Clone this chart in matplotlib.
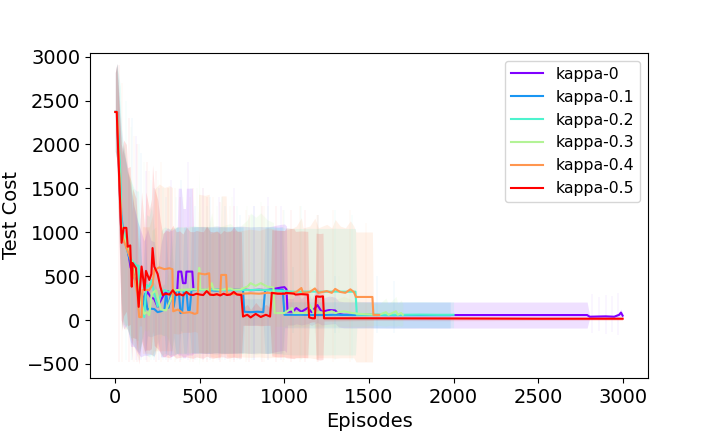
import numpy as np
import matplotlib
matplotlib.use("Agg")
import matplotlib.pyplot as plt

# kappa labels, one run each
LABELS = ["kappa-0", "kappa-0.1", "kappa-0.2", "kappa-0.3", "kappa-0.4", "kappa-0.5"]

# kappa-0
k0_ep = [0, 10, 35, 50, 70, 90, 110, 130, 150, 170, 190, 210, 230, 250, 270, 290, 310, 330, 350, 366,
         372, 390, 400, 415, 420, 445, 455, 462, 500, 550, 600, 650, 700, 750, 800, 850, 900, 950, 980, 1000,
         1012, 1018, 1050, 1070, 1100, 1140, 1160, 1195, 1220, 1265, 1300, 1320, 1350, 1400, 1500,
         1600, 1700, 1800, 1900, 2000, 2500, 2790, 2805, 2850, 2900, 2950, 2980, 2990, 3000]
k0_mean = [2370, 2370, 1000, 900, 850, 600, 500, 380, 300, 250, 320, 260, 240, 150, 230, 300, 330, 300, 320, 340,
           552, 552, 420, 420, 552, 552, 552, 342, 345, 340, 350, 340, 345, 350, 340, 345, 340, 360, 370, 375,
           350, 95, 95, 137, 95, 140, 90, 171, 95, 114, 110, 70, 60, 60, 60,
           57, 57, 57, 57, 57, 57, 57, 38, 40, 42, 38, 60, 85, 50]
k0_std = [450, 550, 1000, 1000, 900, 900, 800, 750, 720, 650, 720, 650, 650, 400, 650, 720, 720, 720, 720, 720,
          950, 950, 850, 850, 950, 950, 950, 720, 720, 720, 720, 720, 720, 720, 720, 720, 720, 720, 720, 720,
          720, 150, 150, 180, 150, 180, 150, 200, 150, 160, 150, 148, 148, 148, 148,
          148, 148, 148, 148, 148, 148, 148, 15, 15, 15, 15, 30, 40, 30]

# kappa-0.1
k1_ep = [0, 10, 35, 50, 70, 90, 110, 130, 141, 160, 175, 190, 210, 230, 250, 270, 290, 300, 315, 330,
         345, 360, 375, 385, 395, 405, 420, 430, 440, 450, 500, 550, 600, 650, 700, 755, 762, 800, 840, 875,
         885, 930, 960, 990, 1000, 1100, 1200, 1300, 1400, 1500, 1600, 1700, 1800, 1900, 1980]
k1_mean = [2370, 2370, 1200, 950, 800, 650, 500, 400, 342, 150, 300, 120, 130, 125, 90, 100, 120, 300, 140, 320,
           150, 340, 342, 80, 90, 340, 342, 114, 114, 340, 345, 340, 335, 345, 340, 342, 95, 90, 95, 90,
           342, 345, 340, 345, 60, 60, 57, 60, 57, 57, 57, 57, 57, 57, 57]
k1_std = [450, 550, 1000, 1000, 900, 900, 800, 750, 720, 350, 700, 300, 320, 300, 250, 260, 300, 700, 330, 720,
          350, 720, 720, 200, 220, 720, 720, 250, 250, 720, 720, 720, 720, 720, 720, 720, 150, 150, 150, 150,
          720, 720, 720, 720, 148, 148, 148, 148, 148, 148, 148, 148, 148, 148, 148]

# kappa-0.2
k2_ep = [0, 10, 30, 37, 50, 70, 90, 110, 125, 137, 145, 160, 171, 180, 185, 200, 215, 230, 250, 270,
         290, 320, 350, 380, 420, 460, 500, 550, 600, 650, 700, 750, 800, 850, 900, 950, 1000, 1050, 1100, 1150,
         1200, 1250, 1300, 1350, 1400, 1420, 1428, 1500, 1600, 1700, 1800, 1900, 2000]
k2_mean = [2370, 2370, 1650, 900, 1000, 800, 700, 650, 620, 620, 342, 148, 34, 300, 400, 380, 457, 300, 150, 300,
           340, 320, 330, 340, 330, 350, 340, 345, 350, 340, 345, 342, 342, 345, 340, 335, 330, 323, 323, 325,
           323, 323, 325, 323, 323, 323, 60, 62, 60, 60, 62, 60, 60]
k2_std = [450, 550, 1000, 1000, 1000, 900, 900, 850, 850, 850, 720, 350, 100, 700, 800, 800, 850, 720, 350, 720,
          720, 720, 720, 720, 720, 720, 720, 720, 720, 720, 720, 720, 720, 720, 720, 720, 720, 720, 720, 720,
          720, 720, 720, 720, 720, 720, 148, 148, 148, 148, 148, 148, 148]

# kappa-0.3
k3_ep = [0, 10, 35, 50, 70, 90, 110, 130, 150, 171, 185, 200, 215, 240, 270, 300, 350, 400, 450, 490,
         496, 502, 550, 570, 580, 620, 680, 700, 740, 780, 800, 830, 860, 900, 935, 942, 980, 1000, 1045, 1055,
         1100, 1135, 1150, 1160, 1175, 1210, 1245, 1280, 1300, 1350, 1400, 1450, 1500, 1560, 1600,
         1615, 1660, 1670, 1690, 1700]
k3_mean = [2370, 2370, 1100, 950, 850, 700, 600, 450, 200, 70, 90, 57, 300, 340, 120, 110, 340, 345, 350, 350,
           594, 350, 345, 420, 350, 345, 360, 345, 350, 380, 420, 390, 420, 380, 370, 80, 80, 80, 137, 80,
           80, 80, 171, 137, 80, 90, 80, 100, 80, 100, 80, 70, 65, 60, 90,
           60, 100, 60, 80, 60]
k3_std = [450, 550, 1000, 1000, 900, 900, 850, 800, 500, 180, 220, 150, 720, 720, 300, 280, 720, 720, 720, 720,
          1100, 720, 720, 800, 720, 720, 740, 720, 720, 760, 800, 780, 800, 760, 740, 150, 150, 150, 200, 150,
          150, 150, 230, 200, 150, 160, 150, 170, 150, 170, 150, 140, 130, 120, 160,
          120, 170, 120, 150, 120]

# kappa-0.4
k4_ep = [0, 10, 35, 50, 70, 90, 110, 130, 141, 155, 160, 185, 200, 220, 230, 260, 290, 320, 337, 342,
         370, 400, 440, 470, 485, 492, 530, 555, 560, 600, 620, 626, 655, 660, 700, 750, 800, 850, 900, 950,
         1000, 1050, 1070, 1100, 1110, 1150, 1180, 1200, 1250, 1280, 1300, 1330, 1360, 1390, 1410,
         1423, 1500, 1520, 1526, 1560]
k4_mean = [2370, 2370, 1000, 900, 800, 700, 500, 300, 34, 34, 342, 342, 342, 400, 570, 600, 580, 590, 580, 100,
           120, 80, 90, 70, 80, 533, 520, 533, 285, 290, 290, 514, 514, 300, 295, 300, 305, 300, 310, 305,
           300, 310, 320, 365, 310, 320, 360, 310, 330, 310, 355, 320, 310, 350, 320,
           263, 263, 263, 57, 57]
k4_std = [450, 550, 1000, 1000, 900, 900, 800, 720, 100, 100, 720, 720, 720, 800, 920, 950, 930, 940, 930, 250,
          280, 220, 230, 200, 220, 900, 900, 900, 700, 720, 720, 900, 900, 720, 720, 720, 730, 720, 740, 730,
          720, 740, 750, 800, 740, 750, 800, 740, 760, 740, 790, 750, 740, 780, 750,
          740, 740, 740, 30, 30]

# kappa-0.5
k5_ep = [0, 8, 37, 49, 65, 73, 88, 97, 102, 122, 138, 155, 173, 181, 201, 213, 220, 230, 250, 266,
         280, 300, 320, 340, 360, 380, 400, 420, 440, 460, 480, 500, 520, 540, 560, 580, 600, 620, 640, 660,
         680, 700, 720, 745, 755, 780, 800, 830, 860, 890, 915, 925, 960, 1000, 1010, 1057, 1065, 1100, 1138, 1146,
         1165, 1180, 1187, 1210, 1228, 1234, 1500, 2000, 2500, 3000]
k5_mean = [2370, 2370, 880, 1050, 1050, 835, 850, 380, 650, 590, 150, 610, 342, 560, 457, 525, 820, 610, 525, 380,
           285, 300, 290, 340, 285, 295, 280, 320, 290, 285, 300, 290, 285, 330, 290, 285, 295, 280, 300, 285,
           290, 320, 290, 285, 40, 60, 30, 70, 35, 60, 40, 310, 300, 300, 310, 300, 290, 295, 290, 30,
           20, 20, 270, 265, 270, 20, 20, 18, 15, 15]
k5_std = [450, 550, 1000, 1000, 950, 900, 900, 850, 850, 800, 650, 850, 700, 900, 800, 850, 950, 900, 850, 750,
          700, 720, 720, 740, 720, 720, 700, 740, 720, 720, 720, 720, 720, 740, 720, 720, 720, 700, 720, 720,
          720, 740, 720, 720, 100, 120, 90, 130, 100, 120, 100, 720, 720, 720, 740, 740, 720, 720, 720, 60,
          40, 40, 720, 720, 720, 30, 25, 25, 20, 20]

# single noisy evaluations (faint streaks outside the bands)
k0_spk_ep = [120, 180, 260, 330, 430, 520, 610, 700, 820, 900, 980, 2820, 2860, 2900, 2940, 2975]
k0_spk_lo = [-450, -450, -450, -450, -450, -450, -450, -450, -450, -450, -450, -150, -130, -160, -140, -170]
k0_spk_hi = [2100, 1700, 1500, 1600, 1800, 1500, 1400, 1500, 1300, 1400, 1300, 300, 260, 290, 270, 310]

k1_spk_ep = [100, 150, 230, 300, 390, 470, 560, 650, 740, 820, 1050, 1300, 1550, 1650]
k1_spk_lo = [-450, -450, -450, -450, -450, -450, -450, -450, -450, -450, -150, -150, -150, -150]
k1_spk_hi = [2300, 1900, 1500, 1400, 1600, 1300, 1400, 1300, 1200, 1300, 600, 500, 500, 450]

k2_spk_ep = [60, 140, 210, 280, 360, 450, 540, 630, 720, 810, 900, 1000, 1100, 1200, 1300, 1400]
k2_spk_lo = [-450, -450, -450, -450, -450, -450, -450, -450, -450, -450, -450, -450, -450, -450, -450, -450]
k2_spk_hi = [2500, 2000, 1600, 1500, 1400, 1500, 1300, 1400, 1300, 1200, 1300, 1250, 1300, 1200, 1250, 1200]

k3_spk_ep = [90, 170, 250, 320, 400, 480, 600, 690, 780, 860, 1050, 1180, 1320]
k3_spk_lo = [-450, -450, -450, -450, -450, -450, -450, -450, -450, -450, -150, -150, -150]
k3_spk_hi = [2200, 1800, 1600, 1500, 1400, 1500, 1300, 1400, 1300, 1350, 600, 550, 500]

k4_spk_ep = [40, 110, 200, 270, 350, 440, 520, 580, 680, 770, 880, 990, 1090, 1190, 1290, 1390, 1480]
k4_spk_lo = [-480, -480, -480, -480, -480, -480, -480, -480, -480, -480, -480, -480, -480, -480, -480, -480, -480]
k4_spk_hi = [2700, 2100, 1700, 1800, 1500, 1400, 1500, 1400, 1300, 1250, 1300, 1250, 1300, 1200, 1250, 1250, 1100]

k5_spk_ep = [20, 80, 130, 190, 240, 310, 380, 460, 540, 620, 700, 790, 870, 950, 1040, 1120, 1200]
k5_spk_lo = [-480, -480, -480, -480, -480, -480, -480, -480, -480, -480, -480, -480, -480, -480, -480, -480, -480]
k5_spk_hi = [2900, 2300, 2000, 1800, 1700, 1500, 1400, 1500, 1400, 1350, 1300, 1200, 1300, 1300, 1250, 1250, 1200]

runs = [(k0_ep, k0_mean, k0_std), (k1_ep, k1_mean, k1_std), (k2_ep, k2_mean, k2_std),
        (k3_ep, k3_mean, k3_std), (k4_ep, k4_mean, k4_std), (k5_ep, k5_mean, k5_std)]
spikes = [(k0_spk_ep, k0_spk_lo, k0_spk_hi), (k1_spk_ep, k1_spk_lo, k1_spk_hi),
          (k2_spk_ep, k2_spk_lo, k2_spk_hi), (k3_spk_ep, k3_spk_lo, k3_spk_hi),
          (k4_spk_ep, k4_spk_lo, k4_spk_hi), (k5_spk_ep, k5_spk_lo, k5_spk_hi)]

colors = plt.cm.rainbow(np.linspace(0, 1, len(LABELS)))

fig, ax = plt.subplots(figsize=(7.2, 4.32), dpi=100)
fig.subplots_adjust(left=0.125, right=0.9, bottom=0.125, top=0.878)

for (ep, mean, std), (sx, slo, shi), lab, c in zip(runs, spikes, LABELS, colors):
    ep = np.array(ep, dtype=float)
    mean = np.array(mean, dtype=float)
    std = np.array(std, dtype=float)
    assert len(ep) == len(mean) == len(std), lab
    ax.plot(ep, mean, color=c, linewidth=1.5, label=lab)
    ax.fill_between(ep, mean - std, mean + std, color=c, alpha=0.12, linewidth=0)
    # faint spikes, same colour as the band
    ax.vlines(sx, slo, shi, color=c, alpha=0.045, linewidth=1.2)

ax.set_xlim(-150, 3150)
ax.set_ylim(-660, 3045)
ax.set_xticks(np.arange(0, 3001, 500))
ax.set_yticks(np.arange(-500, 3001, 500))
ax.tick_params(labelsize=14)
ax.set_xlabel("Episodes", fontsize=14)
ax.set_ylabel("Test Cost", fontsize=14)
ax.legend(loc="upper right", fontsize=11.3)

plt.savefig("out.png", dpi=100)
